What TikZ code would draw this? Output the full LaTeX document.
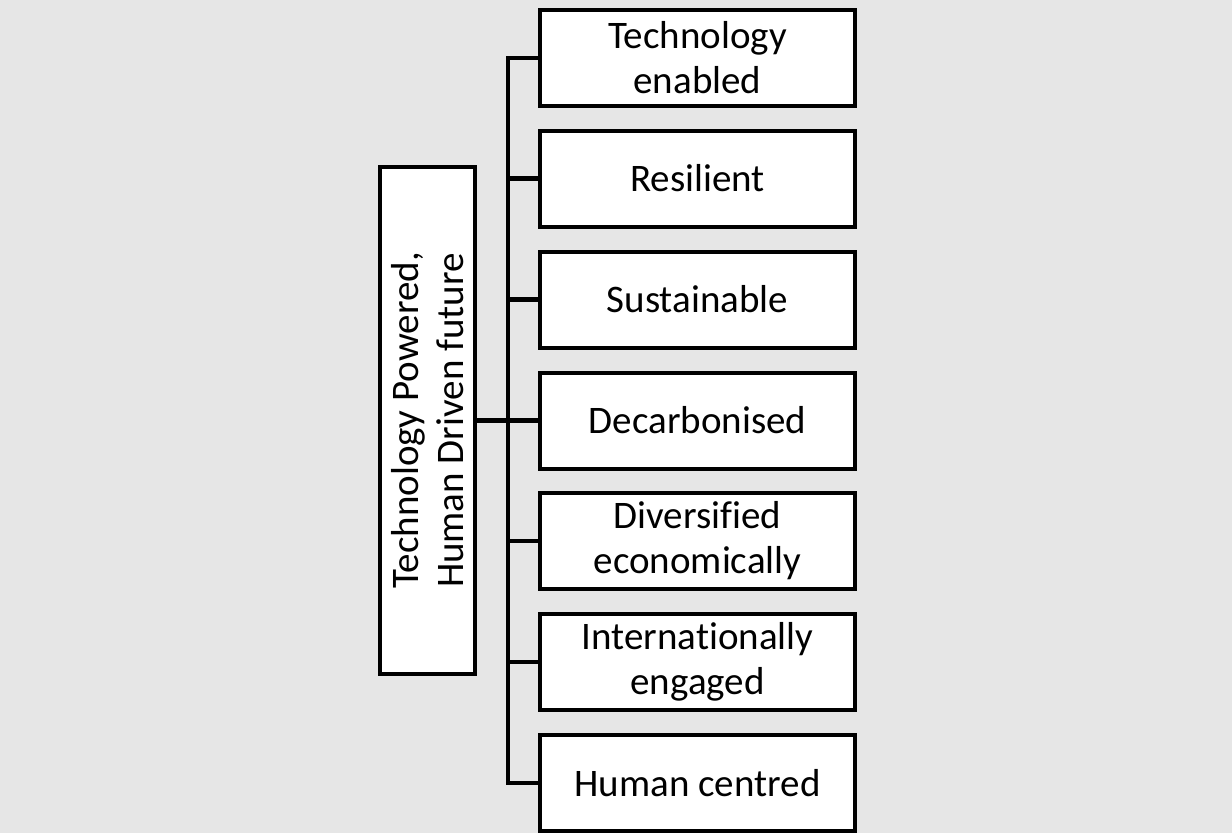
\documentclass[tikz,border=0pt]{standalone}
\usepackage{fontspec}
\setmainfont[Ligatures=NoCommon]{Carlito}
\definecolor{bg}{RGB}{230,230,230}
\begin{document}
\begin{tikzpicture}[x=1pt,y=-1pt,
  leaf/.style={draw=black,line width=4pt,fill=white,minimum width=315pt,minimum height=96pt,inner sep=0pt,align=center,font=\fontsize{39}{45}\selectfont},
  mainbox/.style={draw=black,line width=4pt,fill=white,minimum width=95pt,minimum height=507pt,inner sep=0pt},
  conn/.style={draw=black,line width=4.5pt,line join=miter}]
\fill[bg] (0,0) rectangle (1232,833);
\useasboundingbox (0,0) rectangle (1232,833);
\node[mainbox] (main) at (427.5,420.5) {};
\node[rotate=90,align=center,font=\fontsize{39}{45}\selectfont] (maintext) at (main.center) {Technology Powered,\\Human Driven future};
\node[leaf] (b1) at (697.5,58) {Technology\\enabled};
\node[leaf] (b2) at (697.5,178.5) {Resilient};
\node[leaf] (b3) at (697.5,299.5) {Sustainable};
\node[leaf] (b4) at (697.5,420.5) {Decarbonised};
\node[leaf] (b5) at (697.5,541) {Diversified\\economically};
\node[leaf] (b6) at (697.5,662) {Internationally\\engaged};
\node[leaf] (b7) at (697.5,783) {Human centred};
\coordinate (t1) at (508,58);
\coordinate (t7) at (508,783);
\draw[conn] (b1.west) -- (t1) -- (t7) -- (b7.west);
\foreach \i in {2,...,6} {\draw[conn] (b\i.west) -- (b\i.west -| t1);}
\draw[conn] (main.east) -- (main.east -| t1);
\end{tikzpicture}
\end{document}
